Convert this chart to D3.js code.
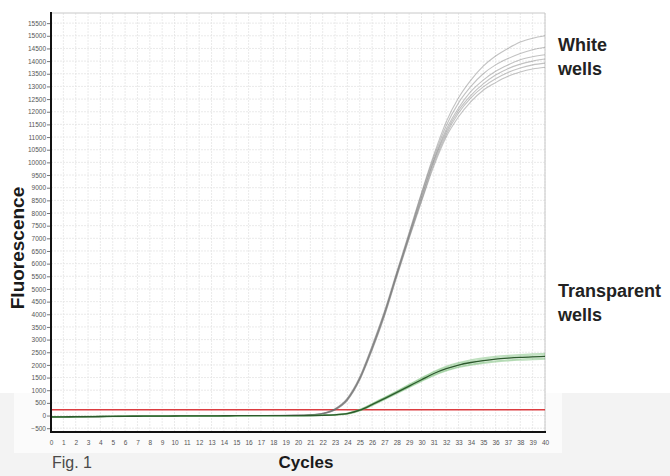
<!DOCTYPE html>
<html><head><meta charset="utf-8">
<script src="https://cdn.jsdelivr.net/npm/d3@7"></script>
<style>body{margin:0;background:#fff}svg{display:block}</style>
</head><body>
<script>
const cycles = [0,1,2,3,4,5,6,7,8,9,10,11,12,13,14,15,16,17,18,19,20,21,22,23,24,25,26,27,28,29,30,31,32,33,34,35,36,37,38,39,40];
const yTicks = [-500,0,500,1000,1500,2000,2500,3000,3500,4000,4500,5000,5500,6000,6500,7000,7500,8000,8500,9000,9500,10000,10500,11000,11500,12000,12500,13000,13500,14000,14500,15000,15500];
const threshold = 230;

// White wells (6 wells)
const white1 = [-60,-55,-50,-45,-40,-35,-30,-25,-20,-15,-10,-10,-5,-5,0,0,0,0,5,5,10,30,90,270,690,1530,2760,4120,5680,7230,8800,10300,11600,12550,13250,13800,14200,14500,14750,14900,15000];
const white2 = [-70,-62,-55,-48,-42,-36,-30,-25,-20,-15,-12,-10,-8,-5,-3,0,0,0,3,5,8,25,85,260,670,1500,2720,4080,5640,7180,8750,10200,11450,12350,13000,13500,13850,14100,14300,14450,14550];
const white3 = [-65,-58,-52,-46,-40,-35,-30,-24,-20,-16,-12,-10,-6,-4,-2,0,0,0,2,4,8,22,80,250,650,1470,2680,4040,5600,7130,8650,10100,11300,12150,12800,13250,13600,13850,14050,14170,14250];
const white4 = [-55,-50,-45,-40,-36,-32,-28,-24,-20,-15,-12,-8,-6,-4,-2,0,0,0,2,4,6,20,75,240,630,1450,2650,4000,5560,7090,8600,10050,11200,12050,12650,13100,13450,13700,13880,14000,14080];
const white5 = [-75,-66,-58,-50,-44,-38,-32,-26,-22,-18,-14,-10,-8,-6,-3,-1,0,0,2,3,6,18,70,230,610,1420,2610,3960,5520,7040,8500,9950,11100,11950,12550,12980,13300,13550,13730,13850,13920];
const white6 = [-62,-56,-50,-45,-40,-34,-28,-24,-20,-16,-12,-9,-6,-4,-2,0,0,0,1,3,5,16,65,220,600,1400,2580,3920,5480,6990,8450,9850,11000,11800,12400,12850,13150,13400,13570,13690,13760];

// Transparent wells (light traces + dark mean trace)
const clear1 = [-50,-46,-42,-38,-34,-30,-27,-24,-21,-18,-16,-14,-12,-10,-8,-6,-5,-4,-3,-2,0,5,15,40,100,240,470,720,970,1230,1490,1740,1940,2090,2200,2280,2340,2380,2410,2435,2455];
const clear2 = [-60,-55,-50,-45,-40,-36,-32,-28,-25,-22,-19,-16,-14,-12,-10,-8,-6,-5,-4,-3,-1,3,12,35,90,225,455,700,950,1200,1460,1710,1900,2050,2150,2230,2290,2330,2360,2385,2405];
const clear3 = [-45,-42,-38,-35,-32,-29,-26,-23,-20,-18,-15,-13,-11,-9,-7,-6,-5,-4,-3,-2,-1,2,10,30,80,210,435,675,915,1165,1415,1655,1845,1990,2090,2170,2230,2270,2300,2325,2345];
const clear4 = [-65,-60,-54,-49,-44,-40,-36,-32,-28,-25,-22,-19,-16,-14,-12,-10,-8,-6,-5,-4,-2,0,8,25,70,195,410,650,890,1135,1380,1610,1795,1935,2030,2105,2160,2200,2230,2255,2270];
const clear5 = [-55,-50,-46,-42,-38,-34,-30,-27,-24,-21,-18,-15,-13,-11,-9,-7,-6,-5,-4,-3,-2,0,6,22,60,185,395,630,865,1110,1350,1580,1765,1900,1995,2065,2120,2160,2190,2210,2225];
const clearMean = [-55,-51,-46,-42,-38,-34,-30,-27,-24,-21,-18,-15,-13,-11,-9,-7,-6,-5,-4,-3,-1,2,10,30,80,210,430,670,915,1165,1415,1660,1850,1995,2095,2170,2230,2270,2300,2320,2335];

const whiteSeries = [white1, white2, white3, white4, white5, white6];
const clearSeries = [clear1, clear2, clear3, clear4, clear5];

const W = 670, H = 476;
const svg = d3.select("body").append("svg").attr("width", W).attr("height", H);

// page background band
svg.append("rect").attr("x",0).attr("y",0).attr("width",W).attr("height",H).attr("fill","#ffffff");
svg.append("rect").attr("x",0).attr("y",393).attr("width",W).attr("height",H-393).attr("fill","#f3f3f3");
svg.append("rect").attr("x",14).attr("y",393).attr("width",548).attr("height",60).attr("fill","#fbfbfb");

const x = d3.scaleLinear().domain([0,40]).range([51,545]);
const y = d3.scaleLinear().domain([-650,15900]).range([432,13]);

// plot background
svg.append("rect").attr("x",x(0)).attr("y",y(15900)).attr("width",x(40)-x(0)).attr("height",y(-650)-y(15900)).attr("fill","#fff");

// grid
const grid = svg.append("g");
grid.selectAll(".vg").data(cycles).join("line")
  .attr("x1",d=>x(d)).attr("x2",d=>x(d)).attr("y1",y(15900)).attr("y2",y(-650))
  .attr("stroke","#e4e4e4").attr("stroke-width",0.8).attr("stroke-dasharray","2,1");
grid.selectAll(".hg").data(yTicks).join("line")
  .attr("x1",x(0)).attr("x2",x(40)).attr("y1",d=>y(d)).attr("y2",d=>y(d))
  .attr("stroke","#e4e4e4").attr("stroke-width",0.8).attr("stroke-dasharray","2,1");

// top/right border
svg.append("path").attr("d",`M${x(0)},${y(15900)}H${x(40)}V${y(-650)}`).attr("fill","none").attr("stroke","#c8c8c8").attr("stroke-width",1);

const line = d3.line().x((d,i)=>x(cycles[i])).y(d=>y(d)).curve(d3.curveMonotoneX);

// threshold
svg.append("line").attr("x1",x(0)).attr("x2",x(40)).attr("y1",y(threshold)).attr("y2",y(threshold))
  .attr("stroke","#dc3c40").attr("stroke-width",1.6);

// white wells
svg.append("g").selectAll("path").data(whiteSeries).join("path")
  .attr("d",line).attr("fill","none").attr("stroke","#6e6e6e").attr("stroke-opacity",0.42).attr("stroke-width",1.1);

// transparent wells
svg.append("g").selectAll("path").data(clearSeries).join("path")
  .attr("d",line).attr("fill","none").attr("stroke","#6cb86c").attr("stroke-opacity",0.45).attr("stroke-width",1.3);
svg.append("path").datum(clearMean).attr("d",line).attr("fill","none").attr("stroke","#2d5a2d").attr("stroke-width",1.3);

// axes
const yAxis = d3.axisLeft(y).tickValues(yTicks).tickSize(4).tickPadding(1).tickFormat(d3.format("d"));
const gy = svg.append("g").attr("transform",`translate(${x(0)},0)`).call(yAxis);
gy.select(".domain").remove();
gy.selectAll(".tick line").attr("stroke","#777");
gy.selectAll(".tick text").attr("font-family","Liberation Sans, Arial, sans-serif").attr("font-size",6.5).attr("fill","#555");

const xAxis = d3.axisBottom(x).tickValues(cycles).tickSize(0).tickPadding(8).tickFormat(d3.format("d"));
const gx = svg.append("g").attr("transform",`translate(0,${y(-650)})`).call(xAxis);
gx.select(".domain").remove();
gx.selectAll(".tick text").attr("font-family","Liberation Sans, Arial, sans-serif").attr("font-size",6.5).attr("fill","#555");

svg.append("line").attr("x1",x(0)).attr("x2",x(0)).attr("y1",y(15900)-1).attr("y2",y(-650)+1).attr("stroke","#111").attr("stroke-width",2);
svg.append("line").attr("x1",x(0)-1).attr("x2",x(40)+1).attr("y1",y(-650)).attr("y2",y(-650)).attr("stroke","#111").attr("stroke-width",2);

// labels
const font = "Liberation Sans, Arial, Helvetica, sans-serif";
svg.append("text").attr("transform","translate(24,248) rotate(-90)").attr("text-anchor","middle")
  .attr("font-family",font).attr("font-weight","bold").attr("font-size",19).attr("fill","#1a1a1a").text("Fluorescence");
svg.append("text").attr("x",306).attr("y",468).attr("text-anchor","middle")
  .attr("font-family",font).attr("font-weight","bold").attr("font-size",17).attr("fill","#1a1a1a").text("Cycles");
svg.append("text").attr("x",52).attr("y",468)
  .attr("font-family",font).attr("font-size",16).attr("fill","#4a4a4a").text("Fig. 1");

const legend = [["White","wells",51],["Transparent","wells",297]];
legend.forEach(([a,b,yy])=>{
  svg.append("text").attr("x",558).attr("y",yy).attr("font-family",font).attr("font-weight","bold").attr("font-size",18).attr("fill","#222").text(a);
  svg.append("text").attr("x",558).attr("y",yy+24).attr("font-family",font).attr("font-weight","bold").attr("font-size",18).attr("fill","#222").text(b);
});
</script>
</body></html>
